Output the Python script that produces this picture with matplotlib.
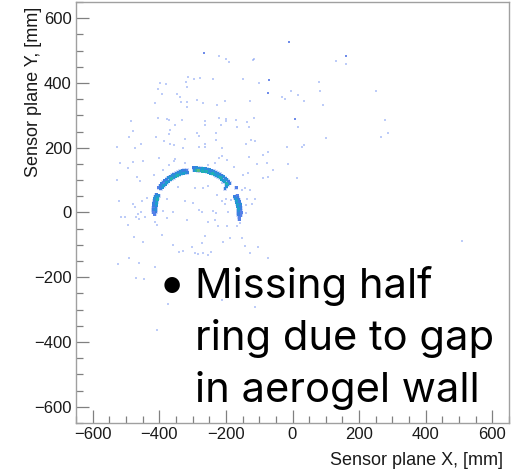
import matplotlib
matplotlib.use("Agg")
import numpy as np
import matplotlib.pyplot as plt
from matplotlib.ticker import MultipleLocator
from matplotlib.colors import ListedColormap, BoundaryNorm

# ---------------- data ----------------
# Ring hits, described in polar form about the ring centre (mm, deg)
ring_center = (-287.0, 8.0)

ul_theta = [104, 104, 107, 107, 110, 110, 113, 113, 116, 116, 119, 119, 122, 122, 125, 125,
            128, 128, 131, 131, 134, 134, 137, 137, 140, 140, 143, 143, 146, 146, 149, 149]
ul_r = [119, 127, 120, 128, 120, 128, 121, 129, 121, 129, 121, 129, 122, 130, 122, 130,
        122, 130, 123, 131, 123, 131, 124, 132, 124, 132, 125, 133, 125, 133, 126, 134]
ul_n = [3, 2, 4, 3, 5, 3, 4, 4, 5, 3, 6, 4, 5, 3, 4, 4,
        6, 3, 5, 4, 4, 3, 5, 3, 4, 2, 5, 3, 4, 3, 3, 2]

ur_theta = [94, 94, 91, 91, 88, 88, 85, 85, 82, 82, 79, 79, 76, 76, 73, 73, 70, 70, 67, 67,
            64, 64, 61, 61, 58, 58, 55, 55, 52, 52, 49, 49, 46, 46, 43, 43, 40, 40, 39, 38]
ur_r = [122, 130, 122, 130, 121, 129, 121, 129, 121, 129, 121, 129, 121, 129, 121, 129, 121, 129,
        121, 129, 121, 129, 121, 129, 121, 129, 121, 129, 121, 129, 121, 129, 121, 129, 121, 129,
        121, 129, 114, 107]
ur_n = [4, 3, 6, 4, 7, 4, 5, 3, 6, 5, 5, 4, 6, 3, 4, 4, 5, 3, 6, 4,
        5, 3, 4, 4, 5, 3, 6, 3, 5, 4, 4, 3, 5, 4, 6, 3, 5, 3, 4, 3]

dot_theta = [30]
dot_r = [136]
dot_n = [2]

left_theta = [159, 159, 162, 162, 165, 165, 168, 168, 171, 171, 174, 174, 177, 177, 180, 180, 183, 183, 186]
left_r = [123, 131, 123, 131, 123, 131, 123, 131, 123, 131, 123, 131, 123, 131, 123, 131, 123, 131, 127]
left_n = [4, 3, 5, 4, 6, 4, 4, 3, 5, 3, 4, 3, 3, 2, 4, 3, 3, 2, 2]

right_theta = [20, 20, 17, 17, 14, 14, 11, 11, 8, 8, 5, 5, 2, 2, -1, -1, -4, -4, -7, -7, -10, -13]
right_r = [121, 129, 121, 129, 122, 130, 122, 130, 123, 131, 123, 131, 124, 132, 124, 132,
           125, 133, 125, 133, 129, 130]
right_n = [3, 2, 4, 3, 5, 3, 4, 3, 5, 4, 4, 3, 5, 3, 4, 2, 3, 2, 3, 2, 2, 2]

# Isolated background hits (single counts)
bg_x = [-222, -200, -192, -120, -115, -315, -295, -277, -240, -148, -100, -397, -380, -320,
        -318, -403, -5, -393, -348, -338, -32, -23, -412, -335, -318, -288, -269, -228, -202,
        -128, -318, -405, -378, -370, -331, -262, -222, -201, -170, -138, -117, -485, -353,
        -262, -214, -200, -166, -132, -480, -368, -372, -288, -282, -230, -490, -411, -386,
        -369, -355, -322, -231, -125, -113, -140, -16, -528, -474, -456, -329, -280, -263,
        -263, -213, -400, -354, -222, -212,
        131, 160, 81, 83, 251, 18, 36, 93, 277, 18, 286, 267, 100, 34, 30, 15, 508,
        -517, -478, -450, -495, -467, -415, -527, -457, -520, -480, -472, -454, -463, -515,
        -504, -470, -442, -460, -493, -475, -449, -490, -462, -525, -413, -470, -445,
        -413, -406, -393, -360, -340, -328, -293, -283, -268, -253, -246, -303, -273, -263,
        -223, -198, -168, -208, -188, -153, -143, -128, -103, -73, -248, -213, -373, -113,
        -158, -408,
        -355, -253, -233, -176, -106, -78, -13, -135, -148, -88, -73, -370, -388, -343,
        -293, -268, -253, -213, -153, -143, -128, -453, -438, -378, -323, -298, -228, -213,
        -200, -186, -203, -138, -113, -140, -123, -388, -358, -280, -273, -238, -230, -193,
        -140, -378, -318, -253, -233, -58, -196, -130, -88, -73, -323]
bg_y = [482, 473, 466, 471, 474, 417, 411, 415, 413, 413, 401, 401, 398, 403,
        389, 382, 375, 365, 365, 356, 356, 352, 337, 341, 341, 347, 339, 333, 343,
        343, 325, 293, 288, 286, 285, 283, 291, 290, 285, 279, 291, 283, 269,
        271, 269, 281, 263, 263, 253, 256, 243, 247, 237, 247, 233, 233, 220,
        210, 208, 226, 225, 225, 222, 211, 202, 202, 199, 211, 199, 202, 211,
        202, 199, 169, 164, 168, 176,
        468, 459, 403, 376, 375, 362, 343, 331, 285, 263, 244, 234, 231, 209, 201, 108, -88,
        152, 157, 159, 137, 109, 116, 101, 98, 37, 27, 16, 0, -5, -13,
        -13, -13, -13, -21, -39, -77, -92, -142, -155, -159, -167, -201, -206,
        -28, -38, -69, -100, -121, -119, -126, -128, -126, -131, -121, -105, -95, -72,
        -43, -41, -43, -90, -79, -79, -103, -126, -105, -141, -244, -270, -282, -293,
        -33, -364,
        160, 147, 154, 142, 150, 154, 150, 121, 116, 106, 111, 147, 132, 80,
        75, 77, 82, 90, 70, 75, 68, 34, 44, 41, 34, 29, 54, 34,
        41, 39, 26, 41, 41, 23, 26, 6, 3, 8, 0, 5, -2, 0,
        -2, -18, -23, -28, -23, 132, 162, 171, 178, 188, 154]

# Background hits with two counts
bg2_x = [-265, -72, -73, 8, -12, 161]
bg2_y = [492, 409, 370, 288, 525, 482]

tick_values = [-600, -400, -200, 0, 200, 400, 600]
x_title = "Sensor plane X, [mm]"
y_title = "Sensor plane Y, [mm]"
note_lines = ["Missing half", "ring due to gap", "in aerogel wall"]

# ---------------- figure ----------------
W, H = 515, 469
fig = plt.figure(figsize=(W / 100, H / 100), dpi=100)
ax = fig.add_axes([76 / W, 1 - 423 / H, (509 - 76) / W, (423 - 2) / H])

cmap = ListedColormap(["#8fa8f2", "#5580e8", "#3a7fe0", "#2a8fd8", "#1ca0cc", "#22afb2",
                       "#5aba80", "#b0c448"])
norm = BoundaryNorm(np.arange(0.5, 9.5, 1.0), cmap.N)

theta = np.radians(np.array(ul_theta + ur_theta + dot_theta + left_theta + right_theta, float))
rad = np.array(ul_r + ur_r + dot_r + left_r + right_r, float)
cnt = np.array(ul_n + ur_n + dot_n + left_n + right_n, float)
rx = ring_center[0] + rad * np.cos(theta)
ry = ring_center[1] + rad * np.sin(theta)

ax.scatter(bg_x, bg_y, s=1.3, marker="s", c="#6d8ef0", alpha=0.45, linewidths=0, zorder=2)
ax.scatter(bg2_x, bg2_y, s=1.8, marker="s", c="#3f66e4", alpha=0.75, linewidths=0, zorder=2)
# soft halo around the ring hits
ax.scatter(rx, ry, s=11, marker="s", c="#7f9ff0", alpha=0.35, linewidths=0, zorder=2.5)
order = np.argsort(cnt)
ax.scatter(rx[order], ry[order], s=4.6, marker="s", c=cnt[order], cmap=cmap, norm=norm,
           linewidths=0, zorder=3)

ax.set_xlim(-650, 650)
ax.set_ylim(-650, 650)
ax.set_xticks(tick_values)
ax.set_yticks(tick_values)
ax.xaxis.set_minor_locator(MultipleLocator(50))
ax.yaxis.set_minor_locator(MultipleLocator(50))
ax.tick_params(which="both", direction="in", top=False, right=False, color="#808080",
               width=0.9, labelsize=12, labelcolor="#1a1a1a", pad=3)
ax.tick_params(which="major", length=9.5)
ax.tick_params(which="minor", length=4.8)
for lab in ax.get_xticklabels() + ax.get_yticklabels():
    lab.set_family("Liberation Sans")
for s in ax.spines.values():
    s.set_color("#a0a0a0")
    s.set_linewidth(1.0)

ax.set_xlabel(x_title, loc="right", fontsize=13, family="Liberation Sans", color="#1a1a1a")
ax.set_ylabel(y_title, loc="top", fontsize=13, family="Liberation Sans", color="#1a1a1a")
ax.xaxis.set_label_coords(1 - 6 / 433, -29 / 421)
ax.yaxis.set_label_coords(-34 / 433, 1 - 5 / 421)

# annotation text
fs = 30
fig.text(160 / W, 1 - 297.7 / H, "\u2022", fontsize=30, family="Lato", va="baseline",
         ha="left", color="black")
baselines = [297.7, 349.7, 401.7]
for line, b in zip(note_lines, baselines):
    fig.text(195 / W, 1 - b / H, line, fontsize=fs, family="Inter", va="baseline", ha="left",
             color="black")

fig.savefig("out.png", dpi=100)
